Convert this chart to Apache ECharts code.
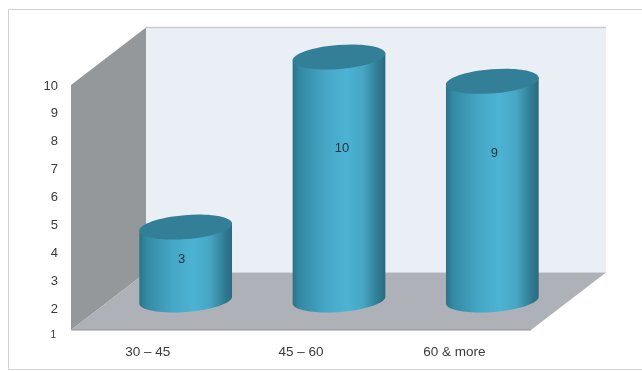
<!DOCTYPE html>
<html>
<head>
<meta charset="utf-8">
<style>html,body{margin:0;padding:0;background:#fff}#chart{width:642px;height:371px}</style>
<script src="https://cdn.jsdelivr.net/npm/echarts@6/dist/echarts.min.js"></script>
</head>
<body>
<div id="chart"></div>
<script>
// Age bands and their counts
const categories = ['30 – 45', '45 – 60', '60 & more'];
const counts = [3, 10, 9];
const tickLabels = ['1', '2', '3', '4', '5', '6', '7', '8', '9', '10'];

// Where the count sits down each cylinder's height, and its sideways nudge
const labelDrop = [0.45, 0.375, 0.33];
const labelNudge = [-4, 3, 2];

const FONT = '"Liberation Sans", Arial, sans-serif';
const DEPTH_X = 75, DEPTH_Y = 57.5, WALL_RISE = 1, FLOOR_RISE = 7;
const RX = 46.5, RY = 12, TILT = 4.5 * Math.PI / 180;

// Side wall, back wall and floor of the box, built from the labelled grid
function renderRoom(params) {
  const c = params.coordSys;
  const l = c.x, t = c.y - WALL_RISE, r = c.x + c.width, b = c.y + c.height - FLOOR_RISE;
  const poly = (pts, fill) => ({ type: 'polygon', shape: { points: pts }, style: { fill }, silent: true });
  const line = (x1, y1, x2, y2, stroke, w) => ({
    type: 'line', shape: { x1, y1, x2, y2 }, style: { stroke, lineWidth: w }, silent: true
  });
  return {
    type: 'group',
    children: [
      poly([[l + DEPTH_X, t - DEPTH_Y], [r + DEPTH_X, t - DEPTH_Y], [r + DEPTH_X, b - DEPTH_Y], [l + DEPTH_X, b - DEPTH_Y]], '#eaeff6'),
      poly([[l, t], [l + DEPTH_X, t - DEPTH_Y], [l + DEPTH_X, b - DEPTH_Y], [l, b]], '#95989a'),
      poly([[l, b], [r, b], [r + DEPTH_X, b - DEPTH_Y], [l + DEPTH_X, b - DEPTH_Y]], '#aeb1b7'),
      line(l + DEPTH_X, t - DEPTH_Y, r + DEPTH_X, t - DEPTH_Y, '#c9cbcd', 1.5),
      line(l, b, r, b, '#909398', 1)
    ]
  };
}

// Outline of the cylinder's side: straight edges closed by the lower half of the tilted base ellipse
function sideOutline(cx, topY, baseY) {
  const pts = [];
  const cos = Math.cos(TILT), sin = Math.sin(TILT);
  pts.push([cx + RX * cos, topY - RX * sin]);
  pts.push([cx - RX * cos, topY + RX * sin]);
  for (let k = 0; k <= 40; k++) {
    const a = Math.PI - Math.PI * k / 40;
    const ex = RX * Math.cos(a), ey = RY * Math.sin(a);
    pts.push([cx + ex * cos + ey * sin, baseY - ex * sin + ey * cos]);
  }
  return pts;
}

// One tilted cylinder rising from zero to the count
function renderCylinder(params, api) {
  const i = api.value(0);
  const top = api.coord([i, api.value(1)]);
  const base = api.coord([i, 0]);
  const cx = top[0];
  const shade = new echarts.graphic.LinearGradient(0, 0, 1, 0, [
    { offset: 0, color: '#2c7288' },
    { offset: 0.08, color: '#348aa4' },
    { offset: 0.35, color: '#45a6c5' },
    { offset: 0.58, color: '#4db3d4' },
    { offset: 0.76, color: '#46a6c4' },
    { offset: 0.93, color: '#2f7990' },
    { offset: 1, color: '#2b6a7e' }
  ]);
  return {
    type: 'group',
    children: [
      { type: 'polygon', shape: { points: sideOutline(cx, top[1], base[1]) }, style: { fill: shade } },
      { type: 'ellipse', x: cx, y: top[1], rotation: TILT,
        shape: { cx: 0, cy: 0, rx: RX, ry: RY }, style: { fill: '#347f98' } },
      { type: 'text', x: cx + labelNudge[i], y: top[1] + (base[1] - top[1]) * labelDrop[i],
        style: { text: String(api.value(1)), font: '13px ' + FONT, fill: '#1f3540',
          align: 'center', verticalAlign: 'middle' } }
    ]
  };
}

const chart = echarts.init(document.getElementById('chart'), null, { renderer: 'canvas' });
chart.setOption({
  animation: false,
  backgroundColor: '#ffffff',
  graphic: [{
    type: 'rect', z: -10, silent: true,
    shape: { x: 8.5, y: 9.5, width: 640, height: 360 },
    style: { fill: '#ffffff', stroke: '#d2d2d2', lineWidth: 1 }
  }],
  grid: [
    { left: 71, right: 111, top: 86, bottom: 34 },
    { left: 109, right: 73, top: 57, bottom: 71 }
  ],
  xAxis: [
    { type: 'category', gridIndex: 0, data: categories,
      axisLine: { show: false }, axisTick: { show: false }, splitLine: { show: false },
      axisLabel: { margin: 8, color: '#3a3a3a', fontFamily: FONT, fontSize: 13.5 } },
    { type: 'category', gridIndex: 1, data: categories, show: false }
  ],
  yAxis: [
    { type: 'category', gridIndex: 0, data: tickLabels, boundaryGap: false,
      axisLine: { show: false }, axisTick: { show: false }, splitLine: { show: false },
      axisLabel: { margin: 13, color: '#3a3a3a', fontFamily: FONT, fontSize: 13, interval: 0,
        // the lowest tick is drawn smaller where it meets the floor edge
        formatter: v => v === tickLabels[0] ? '{low|' + v + '}' : v,
        rich: { low: { fontSize: 10, fontFamily: FONT, color: '#3a3a3a', padding: [0, 2, 4, 0] } } } },
    { type: 'value', gridIndex: 1, min: 0, max: 10, show: false }
  ],
  series: [
    { type: 'custom', xAxisIndex: 0, yAxisIndex: 0, z: 1, silent: true, clip: false,
      data: [[0, 0]], renderItem: renderRoom },
    { type: 'custom', xAxisIndex: 1, yAxisIndex: 1, z: 2, silent: true, clip: false,
      encode: { x: 0, y: 1 },
      data: counts.map((v, i) => [i, v]), renderItem: renderCylinder }
  ]
});
</script>
</body>
</html>
